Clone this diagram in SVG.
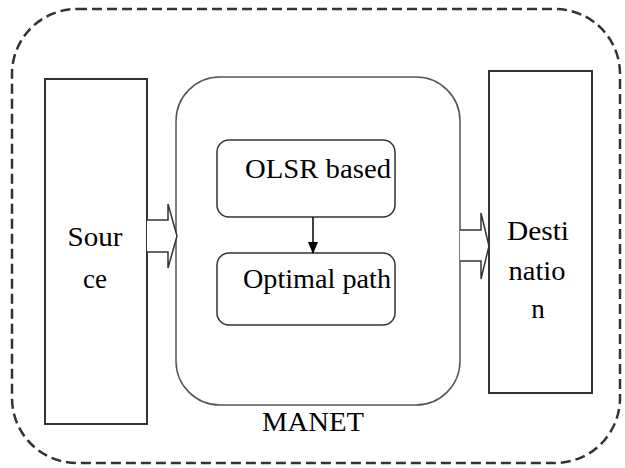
<svg xmlns="http://www.w3.org/2000/svg" width="625" height="468" viewBox="0 0 625 468">
<style>
.box{fill:#fff;stroke:#333;stroke-width:2}
.inner{fill:#fff;stroke:#333;stroke-width:1.5}
.hollow{fill:#fff;stroke:#333;stroke-width:1.5;stroke-linejoin:miter}
</style>
<defs>
<marker id="ah" markerWidth="12" markerHeight="10" refX="11" refY="5" orient="auto" markerUnits="userSpaceOnUse">
<path d="M0,0 L12,5 L0,10 Z" fill="#000"/>
</marker>
</defs>
<rect width="625" height="468" fill="#fff"/>
<g font-family="Liberation Serif, DejaVu Serif, serif" font-size="27" fill="#000" text-anchor="middle">
<g id="manet">
<rect x="12" y="9" width="608" height="454" rx="65" ry="65" fill="none" stroke="#333" stroke-width="2.5" stroke-dasharray="10 5"/>
<text x="313" y="431" textLength="102" lengthAdjust="spacingAndGlyphs">MANET</text>
</g>
<g id="source">
<rect class="box" x="45" y="79" width="102" height="345"/>
<text x="95" y="246" textLength="55" lengthAdjust="spacingAndGlyphs">Sour</text>
<text x="95" y="288" textLength="24" lengthAdjust="spacingAndGlyphs">ce</text>
</g>
<g id="core">
<rect x="176" y="77" width="284" height="328" rx="44" ry="44" fill="#fff" stroke="#555" stroke-width="1.5"/>
</g>
<g id="olsr">
<rect class="inner" x="217" y="140" width="178" height="77" rx="12" ry="12"/>
<text x="318" y="178" textLength="146" lengthAdjust="spacingAndGlyphs">OLSR based</text>
</g>
<g id="optimal">
<rect class="inner" x="217" y="253" width="178" height="72" rx="12" ry="12"/>
<text x="317" y="288" textLength="148" lengthAdjust="spacingAndGlyphs">Optimal path</text>
</g>
<g id="destination">
<rect class="box" x="489" y="71" width="103" height="322"/>
<text x="538" y="240" textLength="62" lengthAdjust="spacingAndGlyphs">Desti</text>
<text x="537" y="280" textLength="57" lengthAdjust="spacingAndGlyphs">natio</text>
<text x="538" y="318">n</text>
</g>
</g>
<g id="connectors">
<path class="hollow" d="M147,220 H168 V204 L177,236 L168,268 V252 H147"/>
<path class="hollow" d="M460,230 H481 V213 L489,246 L481,279 V261 H460"/>
<line x1="313" y1="217" x2="313" y2="253" stroke="#000" stroke-width="1.5" marker-end="url(#ah)"/>
</g>
</svg>
